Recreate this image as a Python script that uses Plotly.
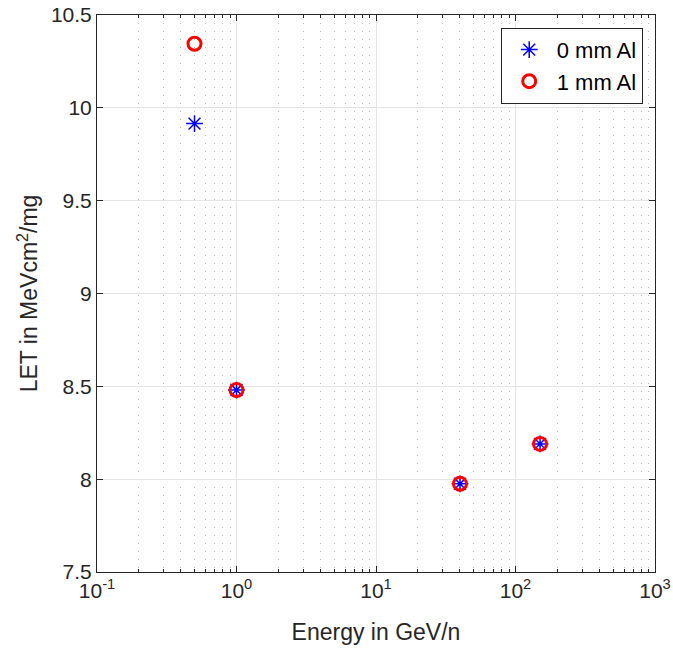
import plotly.graph_objects as go

energy = [0.5, 1, 40, 150]
let_0mm = [9.915, 8.48, 7.975, 8.19]
let_1mm = [10.345, 8.48, 7.975, 8.19]
x_tick_vals = [0.1, 1, 10, 100, 1000]
x_tick_text = ["10<sup>-1</sup>", "10<sup>0</sup>", "10<sup>1</sup>", "10<sup>2</sup>", "10<sup>3</sup>"]
y_tick_vals = [7.5, 8, 8.5, 9, 9.5, 10, 10.5]
y_tick_text = ["7.5", "8", "8.5", "9", "9.5", "10", "10.5"]

FONT = "Liberation Sans, Arial, Helvetica"
TXT = "#262626"

fig = go.Figure()
fig.add_trace(go.Scatter(x=energy, y=let_0mm, mode="markers", name="0 mm Al",
                         marker=dict(symbol="asterisk-open", size=14, color="blue",
                                     line=dict(color="blue", width=1.5))))
fig.add_trace(go.Scatter(x=energy, y=let_1mm, mode="markers", name="1 mm Al",
                         marker=dict(symbol="circle-open", size=13, color="red",
                                     line=dict(color="red", width=3))))

axis_common = dict(showline=True, linecolor=TXT, linewidth=1, mirror="allticks",
                   ticks="inside", ticklen=6, tickcolor=TXT,
                   tickfont=dict(family=FONT, size=21, color=TXT),
                   showgrid=True, gridcolor="#e4e4e4", gridwidth=1, zeroline=False,
                   automargin=False)

fig.update_xaxes(type="log", range=[-1, 3], tickvals=x_tick_vals, ticktext=x_tick_text,
                 title=dict(text="Energy in GeV/n", font=dict(family=FONT, size=23, color=TXT), standoff=22),
                 minor=dict(ticks="inside", ticklen=3, tickcolor=TXT, showgrid=True,
                            gridcolor="#b8b8b8", griddash="1px,7px", gridwidth=1, dtick="D1"),
                 **axis_common)
fig.update_yaxes(range=[7.5, 10.5], tickvals=y_tick_vals, ticktext=y_tick_text,
                 title=dict(text="LET in MeVcm<sup>2</sup>/mg", font=dict(family=FONT, size=23, color=TXT), standoff=6),
                 **axis_common)

fig.update_layout(width=673, height=649, margin=dict(l=97, r=18, t=15, b=77, autoexpand=False),
                  plot_bgcolor="white", paper_bgcolor="white",
                  legend=dict(x=0.978, y=0.977, xanchor="right", yanchor="top",
                              bordercolor=TXT, borderwidth=1, bgcolor="white",
                              itemwidth=45,
                              font=dict(family=FONT, size=22, color="black")),
                  showlegend=True)

fig.write_html("out.html", config={"displayModeBar": False},
               post_script="document.body.style.margin='0';")
